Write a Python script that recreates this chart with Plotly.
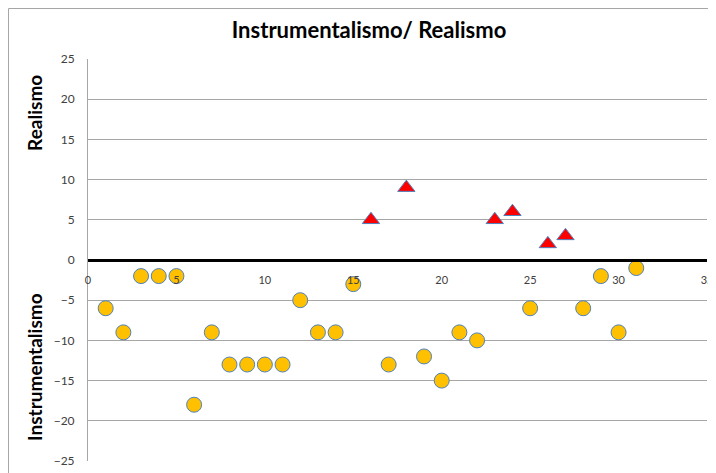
import plotly.graph_objects as go

# Instrumentalismo (círculos) / Realismo (triángulos)
instr_x = [1, 2, 3, 4, 5, 6, 7, 8, 9, 10, 11, 12, 13, 14, 15, 17, 19, 20, 21, 22, 25, 28, 29, 30, 31]
instr_y = [-6, -9, -2, -2, -2, -18, -9, -13, -13, -13, -13, -5, -9, -9, -3, -13, -12, -15, -9, -10, -6, -6, -2, -9, -1]
real_x = [16, 18, 23, 24, 26, 27]
real_y = [5, 9, 5, 6, 2, 3]

x_ticks = [0, 5, 10, 15, 20, 25, 30, 35]
y_ticks = [-25, -20, -15, -10, -5, 0, 5, 10, 15, 20, 25]

FONT = "Lato, 'Open Sans', sans-serif"

fig = go.Figure()
fig.add_trace(go.Scatter(
    x=instr_x, y=instr_y, mode="markers", name="Instrumentalismo",
    marker=dict(symbol="circle", size=15, color="#ffc000", line=dict(color="#4f81bd", width=1))
))
fig.add_trace(go.Scatter(
    x=real_x, y=real_y, mode="markers", name="Realismo",
    marker=dict(symbol="triangle-up", size=15, color="#ff0000", line=dict(color="#4f81bd", width=1))
))

# la página añade 8 px de margen: todo se desplaza 8 px arriba/izquierda
fig.update_layout(
    width=716, height=465,
    margin=dict(l=80, r=17, t=51, b=12, autoexpand=False),
    paper_bgcolor="white", plot_bgcolor="white",
    showlegend=False,
    font=dict(family=FONT, color="#404040", size=11),
    title=dict(text="<b>Instrumentalismo/ Realismo</b>", xref="paper", yref="container",
               x=0.454, xanchor="center", y=0.9527, yanchor="middle",
               font=dict(size=22, color="black", family=FONT)),
    xaxis=dict(range=[0, 35], tickvals=x_ticks, showgrid=False, zeroline=False, automargin=False,
               anchor="free", position=0.5, showline=True, linecolor="black", linewidth=3,
               ticks="", ticklabelstandoff=9, ticklabeloverflow="allow",
               tickfont=dict(size=11, color="#404040")),
    yaxis=dict(range=[-25, 25], tickvals=y_ticks, showgrid=True, gridcolor="#a6a6a6", gridwidth=1,
               zeroline=False, showline=True, linecolor="#a6a6a6", linewidth=1, ticks="",
               automargin=False, ticklabelstandoff=10,
               tickfont=dict(size=12, color="#404040"), domain=[0, 1]),
    shapes=[dict(type="rect", xref="paper", yref="paper", x0=-0.1284, x1=1.2, y0=-0.2, y1=1.1256,
                 line=dict(color="#a6a6a6", width=1), layer="below")],
    annotations=[
        dict(text="<b>Realismo</b>", xref="paper", yref="paper", x=-0.0856, y=0.866,
             textangle=-90, showarrow=False, xanchor="center", yanchor="middle",
             font=dict(size=19, color="black", family=FONT)),
        dict(text="<b>Instrumentalismo</b>", xref="paper", yref="paper", x=-0.0856, y=0.234,
             textangle=-90, showarrow=False, xanchor="center", yanchor="middle",
             font=dict(size=19, color="black", family=FONT)),
    ],
)

fig.write_html("out.html")
